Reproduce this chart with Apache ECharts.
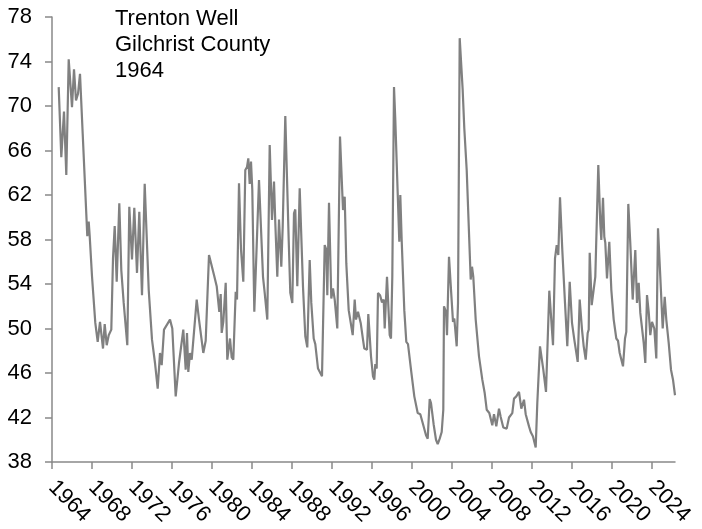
<!DOCTYPE html>
<html>
<head>
<meta charset="utf-8">
<title>Trenton Well</title>
<script src="https://cdn.jsdelivr.net/npm/echarts@6/dist/echarts.min.js"></script>
<style>
  html, body { margin: 0; padding: 0; background: #fff; }
  #chart { width: 702px; height: 529px; }
</style>
</head>
<body>
<div id="chart"></div>
<script>
// decimal year of each reading
const sampleYears = [
  1964.67, 1964.93, 1965.2, 1965.43, 1965.67, 1966.0, 1966.2, 1966.4, 1966.6, 1966.8,
  1967.07, 1967.23, 1967.53, 1967.67, 1967.77, 1968.0, 1968.33, 1968.57, 1968.8, 1969.1,
  1969.27, 1969.47, 1969.67, 1969.93, 1970.1, 1970.27, 1970.47, 1970.73, 1970.93, 1971.17,
  1971.53, 1971.73, 1972.0, 1972.23, 1972.5, 1972.73, 1973.0, 1973.27, 1973.67, 1974.0,
  1974.3, 1974.57, 1974.8, 1974.97, 1975.2, 1975.4, 1975.8, 1976.03, 1976.37, 1976.7,
  1977.13, 1977.37, 1977.5, 1977.63, 1977.8, 1977.97, 1978.47, 1978.7, 1979.13, 1979.37,
  1979.7, 1980.23, 1980.47, 1980.73, 1980.87, 1980.97, 1981.13, 1981.37, 1981.53, 1981.8,
  1981.97, 1982.13, 1982.37, 1982.5, 1982.7, 1982.9, 1983.13, 1983.33, 1983.5, 1983.63,
  1983.77, 1983.9, 1984.03, 1984.23, 1984.43, 1984.7, 1985.1, 1985.27, 1985.53, 1985.77,
  1986.0, 1986.2, 1986.33, 1986.53, 1986.7, 1986.93, 1987.07, 1987.33, 1987.67, 1987.83,
  1988.03, 1988.2, 1988.33, 1988.53, 1988.77, 1989.1, 1989.33, 1989.53, 1989.77, 1989.93,
  1990.17, 1990.33, 1990.6, 1990.8, 1991.0, 1991.27, 1991.43, 1991.53, 1991.7, 1991.93,
  1992.1, 1992.27, 1992.53, 1992.8, 1992.93, 1993.1, 1993.27, 1993.43, 1993.67, 1994.07,
  1994.27, 1994.4, 1994.6, 1994.87, 1995.1, 1995.23, 1995.5, 1995.63, 1995.9, 1996.1,
  1996.23, 1996.33, 1996.47, 1996.6, 1996.8, 1997.0, 1997.17, 1997.27, 1997.5, 1997.77,
  1997.9, 1998.03, 1998.2, 1998.33, 1998.57, 1998.73, 1998.83, 1998.97, 1999.23, 1999.43,
  1999.6, 1999.9, 2000.23, 2000.57, 2000.83, 2001.07, 2001.4, 2001.57, 2001.77, 2001.9,
  2002.17, 2002.4, 2002.57, 2002.77, 2002.97, 2003.13, 2003.2, 2003.4, 2003.5, 2003.7,
  2003.9, 2004.1, 2004.23, 2004.47, 2004.6, 2004.77, 2005.07, 2005.23, 2005.47, 2005.87,
  2006.0, 2006.13, 2006.37, 2006.7, 2007.03, 2007.27, 2007.47, 2007.73, 2008.03, 2008.2,
  2008.43, 2008.7, 2008.87, 2009.13, 2009.47, 2009.7, 2010.03, 2010.2, 2010.43, 2010.7,
  2010.93, 2011.2, 2011.37, 2011.7, 2011.87, 2012.1, 2012.37, 2012.53, 2012.8, 2013.13,
  2013.4, 2013.73, 2014.1, 2014.3, 2014.47, 2014.63, 2014.8, 2015.03, 2015.3, 2015.53,
  2015.77, 2016.0, 2016.23, 2016.57, 2016.77, 2017.0, 2017.17, 2017.37, 2017.57, 2017.67,
  2017.77, 2017.97, 2018.17, 2018.33, 2018.63, 2018.83, 2018.93, 2019.1, 2019.23, 2019.33,
  2019.5, 2019.6, 2019.73, 2019.93, 2020.17, 2020.43, 2020.6, 2020.77, 2021.1, 2021.3,
  2021.43, 2021.63, 2021.83, 2022.07, 2022.33, 2022.5, 2022.67, 2022.83, 2023.17, 2023.33,
  2023.5, 2023.67, 2023.83, 2024.0, 2024.23, 2024.43, 2024.6, 2024.83, 2025.07, 2025.27,
  2025.43, 2025.67, 2025.9, 2026.1, 2026.3
]

// water level for each reading
const waterLevels = [
  71.7, 65.4, 69.5, 63.8, 74.2, 69.9, 73.3, 70.5, 71.1, 72.9,
  67.5, 67.4, 58.3, 59.6, 58.3, 54.7, 50.5, 48.8, 50.6, 48.2,
  50.4, 48.5, 49.4, 49.9, 56.3, 59.2, 54.2, 61.25, 55.25, 52.3,
  48.5, 60.95, 56.2, 60.85, 55.0, 60.5, 53.0, 63.0, 53.5, 49.0,
  46.9, 44.6, 47.8, 46.7, 49.9, 49.8, 50.8, 50.0, 43.9, 46.9,
  49.9, 46.3, 49.6, 46.1, 47.8, 47.2, 52.6, 50.8, 47.8, 48.9,
  56.6, 54.7, 53.8, 51.5, 53.1, 49.6, 50.6, 54.1, 47.2, 49.1,
  47.4, 47.2, 53.3, 52.6, 63.05, 57.1, 54.2, 64.25, 64.5, 65.3,
  63.0, 65.0, 62.45, 51.5, 56.45, 63.35, 54.65, 53.2, 50.8, 66.5,
  59.75, 63.2, 59.5, 54.65, 59.8, 55.55, 59.15, 69.1, 57.95, 53.2,
  52.3, 60.35, 60.7, 53.8, 62.6, 53.75, 49.3, 48.3, 56.15, 52.3,
  49.1, 48.6, 46.4, 46.3, 45.7, 57.5, 57.1, 53.0, 61.3, 52.7,
  53.6, 52.6, 50.0, 67.25, 67.1, 60.65, 61.85, 55.85, 51.65, 49.4,
  52.6, 50.8, 51.5, 50.5, 49.0, 48.2, 48.1, 51.3, 47.5, 45.7,
  45.4, 46.8, 46.4, 53.2, 53.0, 52.35, 52.6, 50.0, 54.65, 49.4,
  49.1, 54.65, 71.7, 68.75, 62.15, 57.8, 62.0, 57.9, 51.65, 48.8,
  48.6, 46.3, 43.9, 42.4, 42.3, 41.5, 40.4, 40.1, 43.65, 43.3,
  41.35, 40.0, 39.6, 40.1, 40.7, 42.7, 52.0, 51.5, 49.4, 56.45,
  53.5, 50.6, 50.9, 48.4, 52.3, 76.1, 71.4, 68.0, 64.25, 54.4,
  55.55, 54.65, 50.8, 47.5, 45.4, 44.2, 42.7, 42.4, 41.3, 42.3,
  41.2, 42.8, 42.05, 41.1, 41.0, 42.0, 42.4, 43.7, 43.9, 44.3,
  42.8, 43.6, 42.3, 41.2, 40.7, 40.3, 39.3, 43.3, 48.4, 46.3,
  44.3, 53.4, 48.5, 56.3, 57.5, 56.6, 61.8, 57.05, 52.3, 48.4,
  54.2, 50.5, 49.0, 47.0, 52.6, 49.9, 48.4, 47.2, 49.6, 49.9,
  56.8, 52.1, 52.2, 54.65, 64.7, 59.45, 57.95, 61.75, 58.25, 57.7,
  54.5, 54.4, 57.8, 53.5, 50.8, 49.1, 48.9, 47.8, 46.6, 49.1,
  49.7, 61.2, 57.65, 52.6, 57.05, 52.3, 54.1, 51.4, 48.7, 46.9,
  53.0, 51.5, 49.4, 50.6, 50.0, 47.3, 59.0, 54.65, 50.0, 52.85,
  50.8, 48.7, 46.3, 45.4, 44.0
]

const yearTicks = [1964, 1968, 1972, 1976, 1980, 1984, 1988, 1992, 1996, 2000, 2004, 2008, 2012, 2016, 2020, 2024]
const levelMin = 38
const levelMax = 78
const levelStep = 4
const titleLines = ['Trenton Well', 'Gilchrist County', '1964']

const FONT = '"Liberation Sans", Arial, sans-serif'
const AXIS_COLOR = '#898989'

const chart = echarts.init(document.getElementById('chart'))

const seriesData = sampleYears.map((year, i) => [year, waterLevels[i]])

chart.setOption({
  animation: false,
  title: {
    text: titleLines.join('\n'),
    left: 115,
    top: 6,
    padding: 0,
    textStyle: {
      fontFamily: FONT,
      fontSize: 22,
      fontWeight: 'normal',
      lineHeight: 26,
      color: '#000'
    }
  },
  grid: {
    left: 52,
    right: 27,
    top: 17,
    bottom: 67,
    outerBoundsMode: 'none'
  },
  xAxis: {
    type: 'value',
    min: 1964,
    max: 2026.3,
    interval: 4,
    splitLine: { show: false },
    axisLine: { show: true, lineStyle: { color: AXIS_COLOR, width: 1.5 } },
    axisTick: {
      show: true,
      length: 7,
      customValues: yearTicks,
      lineStyle: { color: AXIS_COLOR, width: 1.5 }
    },
    axisLabel: {
      customValues: yearTicks,
      rotate: -45,
      margin: 22,
      fontFamily: FONT,
      fontSize: 22,
      color: '#000',
      formatter: v => String(Math.round(v))
    }
  },
  yAxis: {
    type: 'value',
    min: levelMin,
    max: levelMax,
    interval: levelStep,
    splitLine: { show: false },
    axisLine: { show: true, lineStyle: { color: AXIS_COLOR, width: 1.5 } },
    axisTick: { show: true, length: 7, lineStyle: { color: AXIS_COLOR, width: 1.5 } },
    axisLabel: {
      margin: 20,
      fontFamily: FONT,
      fontSize: 22,
      color: '#000'
    }
  },
  series: [
    {
      type: 'line',
      data: seriesData,
      showSymbol: false,
      lineStyle: { color: '#808080', width: 2.2 },
      itemStyle: { color: '#808080' }
    }
  ]
})
</script>
</body>
</html>
